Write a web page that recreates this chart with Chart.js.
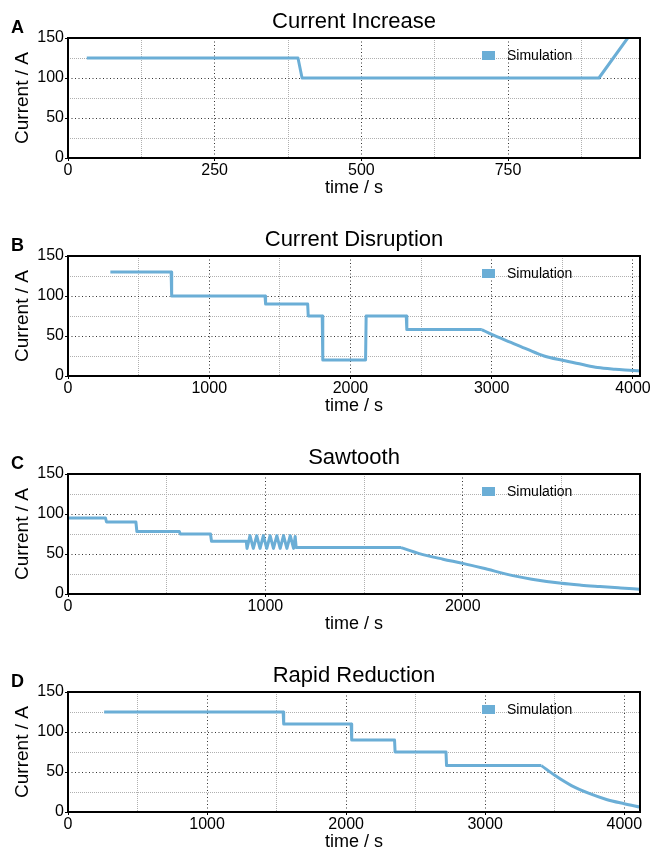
<!DOCTYPE html>
<html>
<head>
<meta charset="utf-8">
<title>Current profiles</title>
<script src="https://cdn.jsdelivr.net/npm/chart.js@4.4.1/dist/chart.umd.min.js"></script>
<style>
  html, body { margin: 0; padding: 0; background: #fff; overflow: hidden; }
  .panel { position: absolute; left: 0; width: 654px; height: 218px; }
</style>
</head>
<body>
<div class="panel" style="top:0"><canvas id="chartA" width="654" height="218"></canvas></div>
<div class="panel" style="top:218px"><canvas id="chartB" width="654" height="218"></canvas></div>
<div class="panel" style="top:436px"><canvas id="chartC" width="654" height="218"></canvas></div>
<div class="panel" style="top:654px"><canvas id="chartD" width="654" height="218"></canvas></div>
<script>
// Data (time in s, current in A)
// step part of each profile
const timeA = [32, 392, 399, 905, 954];
const currentA = [125, 125, 100, 100, 150];

const timeB = [300, 730, 734, 1395, 1399, 1697, 1701, 1800, 1804, 2107, 2111, 2395, 2399, 2930];
const currentB = [130, 130, 100, 100, 90, 90, 75, 75, 20, 20, 75, 75, 58, 58];

const timeC = [0, 190, 195, 344, 349, 564, 569, 722, 727, 903,
  907, 922, 939, 956, 973, 990, 1007, 1024, 1041, 1058, 1075, 1092, 1109, 1126, 1143, 1151, 1156, 1687];
const currentC = [95, 95, 90, 90, 78, 78, 75, 75, 66, 66,
  57, 73, 57, 73, 57, 73, 57, 73, 57, 73, 57, 73, 57, 73, 57, 72, 58, 58];

const timeD = [260, 1547, 1551, 2036, 2040, 2348, 2352, 2718, 2722, 3404];
const currentD = [125, 125, 110, 110, 90, 90, 75, 75, 58, 58];

// smooth decay tails
const tailTimeB = [2930, 3000, 3136, 3250, 3371, 3500, 3636, 3750, 3874, 4000, 4050];
const tailCurrentB = [58, 52, 42, 33.5, 25, 19.6, 14.6, 10.5, 8.4, 7, 6.3];

const tailTimeC = [1687, 1780, 1900, 2000, 2100, 2254, 2350, 2500, 2600, 2695, 2800, 2895];
const tailCurrentC = [58, 50.5, 43.5, 38.3, 32.5, 23, 18.5, 13.3, 11, 9.3, 7.5, 5.9];

const tailTimeD = [3404, 3500, 3620, 3752, 3872, 4000, 4113];
const tailCurrentD = [58, 45.8, 33, 22.9, 15.7, 10.4, 6.2];

// tick positions (grid) and the ones that carry a label
const xTicksA = [0, 125, 250, 375, 500, 625, 750, 875];
const xLabelsA = [0, 250, 500, 750];
const xTicksB = [0, 500, 1000, 1500, 2000, 2500, 3000, 3500, 4000];
const xLabelsB = [0, 1000, 2000, 3000, 4000];
const xTicksC = [0, 500, 1000, 1500, 2000, 2500];
const xLabelsC = [0, 1000, 2000];
const xTicksD = [0, 500, 1000, 1500, 2000, 2500, 3000, 3500, 4000];
const xLabelsD = [0, 1000, 2000, 3000, 4000];
const yTicks = [0, 25, 50, 75, 100, 125, 150];
const yLabels = [0, 50, 100, 150];

const lineColor = '#6baed6';
const fontFamily = '"Liberation Sans", Arial, Helvetica, sans-serif';

// title, panel letter, legend and full frame
const decorPlugin = {
  id: 'decor',
  afterDraw(chart, args, opts) {
    const ctx = chart.ctx;
    const area = chart.chartArea;
    ctx.save();
    ctx.strokeStyle = '#000';
    ctx.lineWidth = 2;
    ctx.strokeRect(area.left, area.top, area.right - area.left, area.bottom - area.top);

    ctx.fillStyle = '#000';
    ctx.font = '22px ' + fontFamily;
    ctx.textAlign = 'center';
    ctx.textBaseline = 'alphabetic';
    ctx.fillText(opts.title, (area.left + area.right) / 2, 28);

    ctx.font = 'bold 18px ' + fontFamily;
    ctx.textAlign = 'left';
    ctx.fillText(opts.letter, 11, 33);

    ctx.fillStyle = lineColor;
    ctx.fillRect(482, 51, 13, 9);
    ctx.fillStyle = '#000';
    ctx.font = '14px ' + fontFamily;
    ctx.textBaseline = 'middle';
    ctx.fillText('Simulation', 507, 56);
    ctx.restore();
  }
};

function toPoints(xs, ys) {
  return xs.map((t, i) => ({ x: t, y: ys[i] }));
}

function makePanel(id, letter, title, times, currents, tailTimes, tailCurrents, xMax, xTicks, xLabels) {
  const ctx = document.getElementById(id).getContext('2d');
  return new Chart(ctx, {
    type: 'line',
    data: {
      datasets: [{
        label: 'Simulation',
        data: toPoints(times, currents),
        borderColor: lineColor,
        borderWidth: 3,
        borderJoinStyle: 'round',
        pointRadius: 0,
        tension: 0,
        fill: false
      }, {
        label: 'Simulation tail',
        data: toPoints(tailTimes, tailCurrents),
        borderColor: lineColor,
        borderWidth: 3,
        borderJoinStyle: 'round',
        pointRadius: 0,
        cubicInterpolationMode: 'monotone',
        fill: false
      }]
    },
    options: {
      responsive: false,
      animation: false,
      layout: { padding: { top: 38, right: 14, bottom: 15, left: 0 } },
      plugins: {
        legend: { display: false },
        tooltip: { enabled: false },
        decor: { title: title, letter: letter }
      },
      scales: {
        x: {
          type: 'linear',
          min: 0,
          max: xMax,
          afterFit: s => { s.height = 45; },
          afterBuildTicks: s => { s.ticks = xTicks.map(v => ({ value: v })); },
          ticks: {
            autoSkip: false,
            maxRotation: 0,
            padding: 0,
            color: '#000',
            font: { family: fontFamily, size: 16 },
            callback: v => xLabels.includes(v) ? String(v) : ''
          },
          grid: {
            color: c => xLabels.includes(c.tick.value) ? '#333' : '#b0b0b0',
            lineWidth: 1,
            tickLength: 3,
            tickColor: c => xLabels.includes(c.tick.value) ? '#000' : 'rgba(0,0,0,0)',
            tickBorderDash: []
          },
          border: {
            display: false,
            dash: c => xLabels.includes(c.tick.value) ? [1, 2.5] : [1, 1]
          },
          title: {
            display: true,
            text: 'time / s',
            color: '#000',
            font: { family: fontFamily, size: 18 },
            padding: { top: 0, bottom: 4 }
          }
        },
        y: {
          min: 0,
          max: 150,
          afterFit: s => { s.width = 68; },
          afterBuildTicks: s => { s.ticks = yTicks.map(v => ({ value: v })); },
          ticks: {
            autoSkip: false,
            padding: 1,
            color: '#000',
            font: { family: fontFamily, size: 16 },
            callback: v => yLabels.includes(v) ? String(v) : ''
          },
          grid: {
            color: c => yLabels.includes(c.tick.value) ? '#333' : '#b0b0b0',
            lineWidth: 1,
            tickLength: 3,
            tickColor: c => yLabels.includes(c.tick.value) ? '#000' : 'rgba(0,0,0,0)',
            tickBorderDash: []
          },
          border: {
            display: false,
            dash: c => yLabels.includes(c.tick.value) ? [1, 2.5] : [1, 1]
          },
          title: {
            display: true,
            text: 'Current / A',
            color: '#000',
            font: { family: fontFamily, size: 19 },
            padding: { top: 11, bottom: 0 }
          }
        }
      }
    },
    plugins: [decorPlugin]
  });
}

makePanel('chartA', 'A', 'Current Increase', timeA, currentA, [], [], 975, xTicksA, xLabelsA);
makePanel('chartB', 'B', 'Current Disruption', timeB, currentB, tailTimeB, tailCurrentB, 4050, xTicksB, xLabelsB);
makePanel('chartC', 'C', 'Sawtooth', timeC, currentC, tailTimeC, tailCurrentC, 2898, xTicksC, xLabelsC);
makePanel('chartD', 'D', 'Rapid Reduction', timeD, currentD, tailTimeD, tailCurrentD, 4113, xTicksD, xLabelsD);
</script>
</body>
</html>
